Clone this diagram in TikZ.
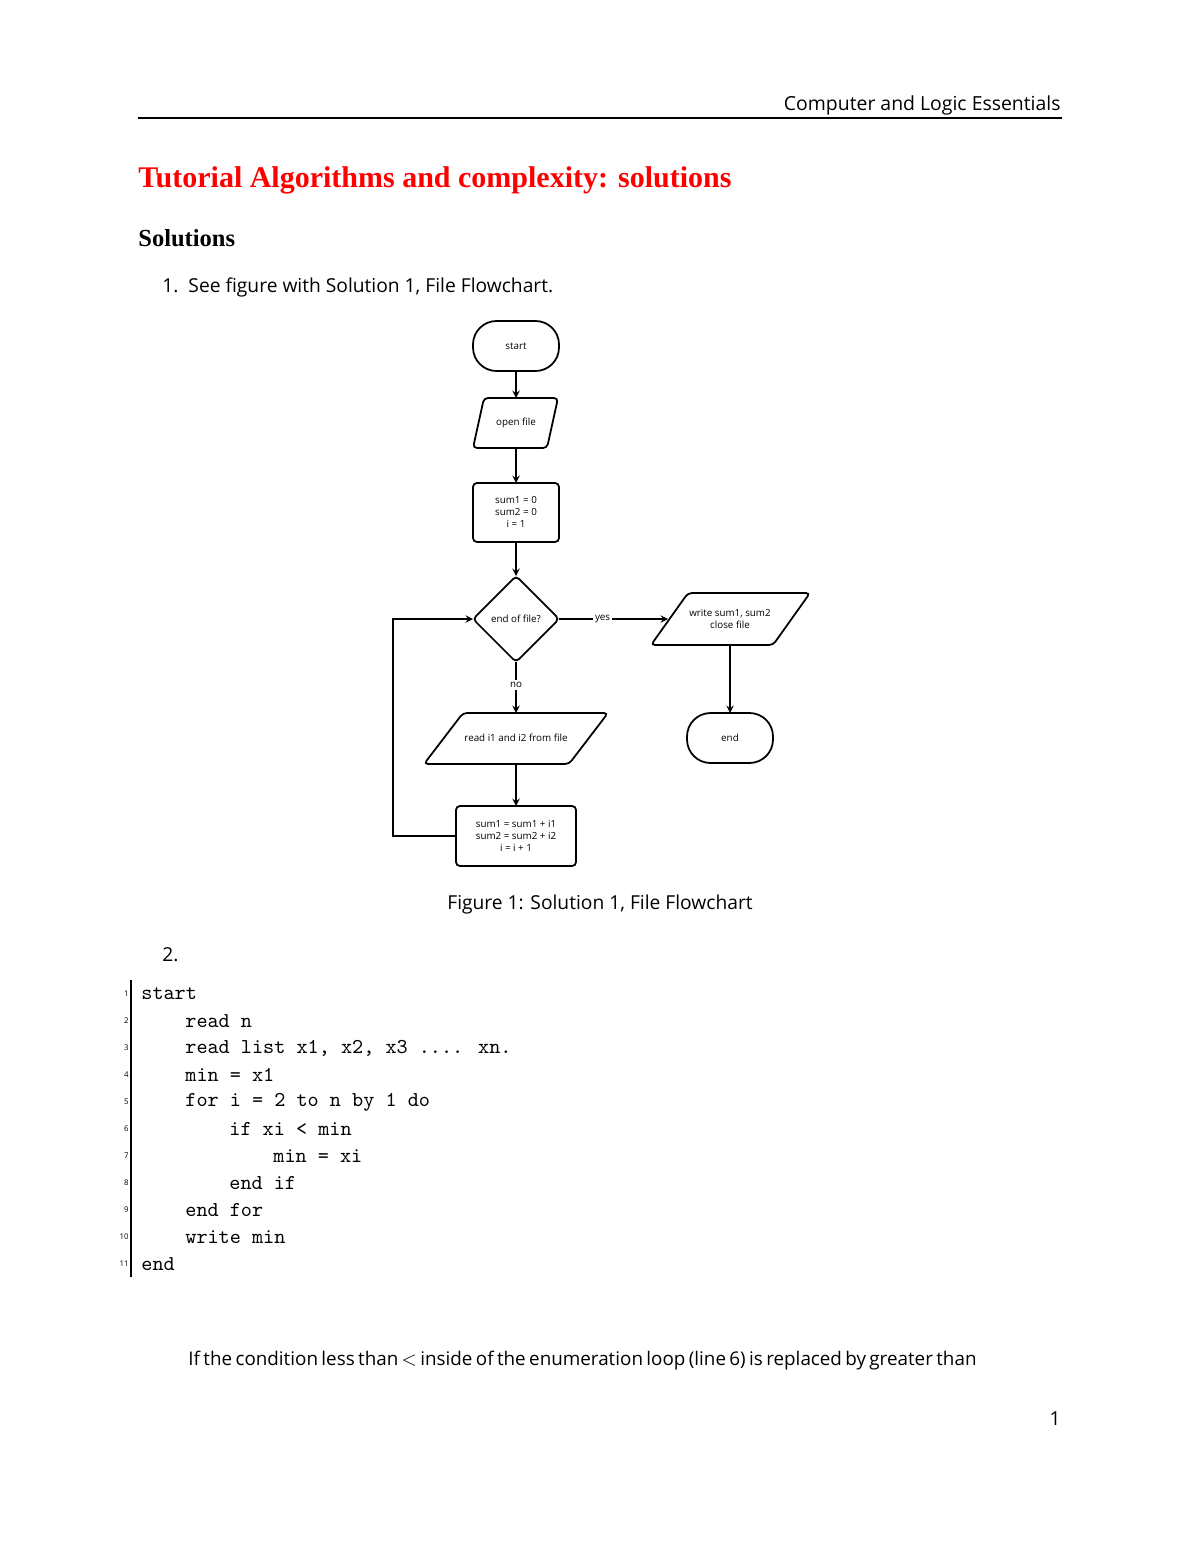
\documentclass[tikz,border=0pt]{standalone}
\usepackage{fontspec}
\setmainfont{Open Sans}
\newfontfamily\titlefont{Liberation Serif}
\begin{document}
\begin{tikzpicture}[x=0.51pt,y=-0.51pt,
  shp/.style={draw,line width=0.9pt,rounded corners=2pt},
  lbl/.style={font=\fontsize{5}{6}\selectfont,align=center,inner sep=0pt},
  arr/.style={->,>=stealth,line width=0.7pt},
  body/.style={anchor=base west,inner sep=0pt,font=\fontsize{9.8}{12}\selectfont},
  code/.style={anchor=west,font=\ttfamily\fontsize{10.8}{12}\selectfont,inner sep=0pt},
  ln/.style={anchor=east,font=\fontsize{4}{5}\selectfont,inner sep=0pt}]
\useasboundingbox (0,0) rectangle (1200,1553);
% header
\node[anchor=base east,font=\fontsize{9.9}{12}\selectfont,inner sep=0pt] (hdr) at (1061,111) {Computer and Logic Essentials};
\draw[line width=0.6pt] (138,118) -- (1062,118);
\node[anchor=base west,inner sep=0pt,text=red,font=\titlefont\bfseries\fontsize{15.3}{17}\selectfont] (title) at (138,188) {Tutorial Algorithms and complexity: solutions};
\node[anchor=base west,inner sep=0pt,font=\titlefont\bfseries\fontsize{12.5}{14}\selectfont] (sol) at (138,246) {Solutions};
\node[body] (item1) at (162,292) {1.\ \ See figure with Solution 1, File Flowchart.};
% flowchart shapes
\draw[shp,rounded corners=12pt] (473,321) rectangle (559,371);
\node[lbl] (start) at (516,346) {start};
\draw[shp] (484,398) -- (558,398) -- (547,448) -- (473,448) -- cycle;
\node[lbl] (open) at (516,423) {open file};
\draw[shp] (473,483) rectangle (559,542);
\node[lbl] (init) at (516,512) {sum1 = 0\\sum2 = 0\\i = 1};
\draw[shp] (516,576) -- (559,619) -- (516,662) -- (473,619) -- cycle;
\node[lbl] (dec) at (516,619) {end of file?};
\draw[shp] (688,593) -- (810,593) -- (773,645) -- (651,645) -- cycle;
\node[lbl] (wr) at (730,619) {write sum1, sum2\\close file};
\draw[shp,rounded corners=12pt] (687,713) rectangle (773,763);
\node[lbl] (endn) at (730,738) {end};
\draw[shp] (463,713) -- (608,713) -- (569,764) -- (424,764) -- cycle;
\node[lbl] (rd) at (516,738) {read i1 and i2 from file};
\draw[shp] (456,806) rectangle (576,866);
\node[lbl] (upd) at (516,836) {sum1 = sum1 + i1\\sum2 = sum2 + i2\\i = i + 1};
% connectors
\coordinate (a1) at (516,371); \coordinate (a2) at (516,398);
\coordinate (b1) at (516,448); \coordinate (b2) at (516,483);
\coordinate (c1) at (516,542); \coordinate (c2) at (516,576);
\coordinate (d1) at (559,619); \coordinate (d2) at (668,619);
\coordinate (e1) at (730,645); \coordinate (e2) at (730,713);
\coordinate (f1) at (516,662); \coordinate (f2) at (516,713);
\coordinate (g1) at (516,764); \coordinate (g2) at (516,806);
\coordinate (h1) at (456,836); \coordinate (h2) at (473,619);
\draw[arr] (a1) -- (a2);
\draw[arr] (b1) -- (b2);
\draw[arr] (c1) -- (c2);
\draw[arr] (d1) -- node[lbl,fill=white,inner sep=1pt,pos=0.4] (yes) {yes} (d2);
\draw[arr] (e1) -- (e2);
\draw[arr] (f1) -- node[lbl,fill=white,inner sep=1pt,pos=0.45] (no) {no} (f2);
\draw[arr] (g1) -- (g2);
\draw[arr] (h1) -- (393,836) -- (393,619) -- (h2);
\node[anchor=base,inner sep=0pt,font=\fontsize{9.8}{12}\selectfont] (cap) at (600,909) {Figure 1: Solution 1, File Flowchart};
\node[body] (item2) at (162,961) {2.};
% code
\draw[line width=0.6pt] (131,980) -- (131,1277);
\foreach \i/\x/\t in {1/141/start,2/185/read n,3/185/{read list x1, x2, x3 .... xn.},4/185/min = x1,5/185/for i = 2 to n by 1 do,6/229/if xi < min,7/273/min = xi,8/229/end if,9/185/end for,10/185/write min,11/141/end}{
  \node[ln] (l\i) at (129,{994+27*(\i-1)}) {\i};
  \node[code] (c\i) at (\x,{994+27*(\i-1)}) {\t};
}
\node[body,font=\fontsize{9.6}{12}\selectfont] (para) at (188,1365) {\spaceskip=0.18em If the condition less than $<$ inside of the enumeration loop (line 6) is replaced by greater than};
\node[anchor=base east,inner sep=0pt,font=\fontsize{9.8}{12}\selectfont] (pg) at (1061,1425) {1};
\end{tikzpicture}
\end{document}
